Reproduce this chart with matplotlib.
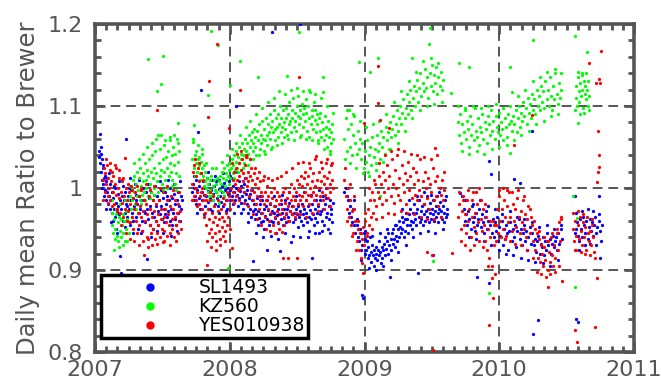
import numpy as np
import matplotlib
matplotlib.use("Agg")
import matplotlib.pyplot as plt
from matplotlib.lines import Line2D
from matplotlib.ticker import MultipleLocator

# Daily points: (days since 2007-01-01, daily-mean ratio to Brewer)
SL1493 = [
(11,1.045),(12,1.038),(13,1.066),(14,1.030),(15,1.042),(17,1.020),(18,1.010),(19,1.035),(20,1.000),(22,1.025),(23,1.005),(24,0.990),(26,1.015),(27,0.998),(29,1.008),(30,0.985),(32,0.995),(33,1.012),(35,0.980),(36,1.000),(38,0.990),(40,0.975),(41,1.005),(43,0.985),(45,0.970),(46,0.995),(48,0.960),(50,0.988),(52,0.975),(53,0.965),(55,1.000),(57,0.982),(58,0.950),(60,0.970),(62,0.993),(63,0.978),(65,1.008),(67,0.985),(68,0.917),(70,0.896),(71,0.975),(73,0.990),(75,0.960),(77,1.003),(78,0.985),(80,0.970),(82,0.995),(84,0.980),(85,1.060),(87,0.965),(89,0.990),(91,1.000),(92,0.975),(94,0.985),(96,0.955),(98,0.998),(100,0.970),(102,0.988),(104,0.960),(106,0.978),(108,1.005),(110,0.992),(112,0.965),(114,0.980),(116,0.950),(118,0.970),(120,0.990),(122,0.975),(124,0.945),(126,0.985),(128,0.960),(130,1.000),(132,0.972),(134,0.985),(136,0.958),(138,0.995),(140,0.913),(142,0.975),(144,0.962),(146,0.988),(148,0.955),(150,0.978),(152,0.995),(154,0.970),(156,0.950),(158,0.985),(160,0.965),(162,1.003),(164,0.978),(166,0.960),(168,0.990),(170,0.972),(172,0.955),(174,0.985),(176,0.968),(178,0.998),(180,0.978),(182,0.962),(184,0.988),(186,0.975),(188,0.958),(190,0.995),(192,0.980),(194,0.965),(196,0.990),(198,0.972),(200,0.985),(202,0.960),(204,1.000),(206,0.975),(208,0.955),(210,0.988),(212,0.970),(214,0.993),(216,0.962),(218,0.980),(220,0.955),(222,0.985),(224,0.970),(226,0.995),(228,0.978),(230,0.960),(232,0.990),(234,0.975),(236,0.985),
(263,0.995),(265,1.005),(267,0.985),(269,1.000),(271,0.990),(273,1.010),(275,0.980),(277,0.998),(279,1.068),(281,0.988),(283,1.003),(285,0.975),(287,1.120),(289,0.995),(291,0.985),(293,1.008),(295,0.992),(297,0.978),(299,1.000),(301,0.990),(303,1.012),(305,0.983),(307,0.996),(309,1.005),(311,0.988),(313,0.975),(315,0.998),(317,1.010),(319,0.985),(321,0.993),(323,1.002),(325,0.980),(327,0.995),(329,1.008),(331,0.988),(333,0.978),(335,0.999),(337,1.010),(339,0.990),(341,0.983),(343,1.003),(345,0.995),(347,0.978),(349,1.006),(351,0.990),(353,0.998),(355,0.985),(357,1.000),(359,0.975),(361,0.993),(363,1.008),(365,0.985),(367,0.998),(369,1.012),(371,0.990),(373,0.980),(375,1.003),(377,0.995),(379,0.985),(381,1.100),(383,1.000),(385,0.992),(387,0.978),(389,1.008),(391,0.988),(393,0.996),(395,0.982),(397,1.002),(399,0.990),(401,0.975),(403,0.995),(405,1.005),(407,0.985),(409,0.993),(411,0.980),(413,0.998),(415,0.970),(417,0.988),(419,0.975),(421,0.993),(423,0.965),(425,0.985),(427,0.972),(429,0.911),(431,0.980),(433,0.962),(435,0.975),(437,0.968),(439,0.988),(441,0.955),(443,0.972),(445,0.963),(447,0.980),(449,0.958),(451,0.970),(453,0.985),(455,0.960),(457,0.975),(459,0.950),(461,0.966),(463,0.978),(465,0.924),(467,0.962),(469,0.973),(471,0.955),(473,0.968),(475,0.980),(477,0.960),(479,0.972),(481,1.190),(483,0.958),(485,0.970),(487,0.963),(489,0.978),(491,0.945),(493,0.967),(495,0.975),(497,0.957),(499,0.968),(501,0.923),(503,0.962),(505,0.980),(507,0.970),(509,0.955),(511,0.975),(513,0.963),(515,0.985),(517,0.968),(519,0.958),(521,0.975),(523,0.965),(525,0.982),(527,0.960),(529,0.972),(531,0.934),(533,0.968),(535,0.978),(537,0.958),(539,0.970),(541,0.985),(543,0.962),(545,0.975),(547,0.968),(549,0.953),(551,0.978),(553,0.965),(555,1.200),(557,0.972),(559,0.960),(561,0.980),(563,0.968),(565,0.955),(567,0.975),(569,0.963),(571,0.985),(573,0.970),(575,0.958),(577,0.978),(579,0.965),(581,0.948),(583,0.973),(585,0.962),(587,0.915),(589,0.980),(591,0.968),(593,0.955),(595,0.975),(597,0.963),(599,0.985),(601,0.970),(603,0.958),(605,0.978),(607,0.945),(609,0.968),(611,0.985),(613,0.972),(615,0.960),(617,0.990),(619,0.975),(621,0.955),(623,0.980),(625,0.965),(627,0.988),(629,0.970),(631,0.950),(633,0.978),(635,0.962),(637,0.985),(639,0.968),(641,0.975),(643,0.958),(645,0.982),
(676,0.995),(679,1.000),(682,0.990),(685,0.985),(688,0.970),(691,0.978),(694,0.965),(697,0.958),(700,0.975),(703,0.955),(706,0.945),(709,0.962),(712,0.940),(715,0.935),(718,0.950),(721,0.925),(723,0.930),(725,0.870),(727,0.866),(729,0.945),(731,0.938),(733,0.920),(735,0.925),(737,0.935),(739,0.915),(741,0.928),(743,0.918),(745,0.940),(747,0.922),(749,0.910),(751,0.930),(753,0.918),(755,0.925),(757,0.905),(759,0.915),(761,0.928),(763,0.920),(765,0.912),(767,0.925),(769,0.918),(771,0.935),(773,0.922),(775,0.908),(777,0.928),(779,0.915),(781,0.925),(783,0.932),(785,0.918),(787,0.940),(789,0.926),(791,0.935),(793,0.920),(795,0.945),(797,0.930),(799,0.891),(801,0.938),(803,0.925),(805,0.945),(807,0.932),(809,0.950),(811,0.938),(813,0.928),(815,0.955),(817,0.942),(819,0.935),(821,0.950),(823,0.960),(825,0.940),(827,0.952),(829,0.945),(831,0.965),(833,0.950),(835,0.958),(837,0.940),(839,0.962),(841,0.948),(843,0.970),(845,0.955),(847,0.962),(849,0.945),(851,0.968),(853,0.955),(855,0.975),(857,0.960),(859,0.950),(861,0.970),(863,0.958),(865,0.980),(867,0.962),(869,0.970),(871,0.955),(873,0.975),(875,0.896),(877,0.965),(879,0.985),(881,0.958),(883,0.972),(885,0.962),(887,0.978),(889,0.955),(891,0.968),(893,0.980),(895,0.960),(897,0.972),(899,0.990),(901,0.965),(903,0.975),(905,0.958),(907,0.970),(909,0.982),(911,0.962),(913,0.975),(915,0.968),(916,0.918),(917,0.985),(919,0.960),(921,0.972),(923,0.978),(925,0.965),(927,0.990),(929,0.970),(931,0.958),(933,0.975),(935,0.983),(937,0.965),(939,0.972),(941,0.962),(943,0.978),(945,0.958),(947,0.970),(949,0.985),(951,0.965),(953,0.975),(955,0.968),
(990,0.994),(995,0.990),(1000,0.975),(1003,0.960),(1006,0.968),(1009,0.955),(1012,0.972),(1015,0.962),(1018,0.950),(1021,0.978),(1024,0.958),(1027,0.965),(1030,0.948),(1033,0.970),(1035,0.891),(1036,0.955),(1039,0.962),(1042,0.975),(1045,0.952),(1048,0.968),(1051,0.958),(1054,0.945),(1057,0.965),(1060,0.972),(1063,0.950),(1066,0.960),(1068,0.884),(1069,1.033),(1072,0.955),(1074,1.017),(1075,0.945),(1078,0.962),(1081,0.940),(1084,0.958),(1087,0.948),(1090,0.965),(1093,0.935),(1096,0.952),(1099,0.942),(1102,0.960),(1105,0.930),(1108,0.950),(1111,0.938),(1114,0.955),(1117,0.945),(1120,0.925),(1123,0.948),(1126,0.958),(1129,0.935),(1132,0.950),(1135,1.011),(1136,0.940),(1139,0.955),(1142,0.928),(1145,0.948),(1148,0.962),(1151,0.938),(1152,1.006),(1154,0.950),(1157,0.930),(1160,0.945),(1163,0.955),(1166,0.935),(1169,0.948),(1172,0.925),(1175,0.940),(1178,0.952),(1181,0.932),(1184,1.070),(1185,0.945),(1187,0.822),(1190,0.930),(1193,0.938),(1196,0.922),(1199,0.935),(1201,0.839),(1202,0.942),(1205,0.920),(1208,0.932),(1211,0.928),(1214,0.940),(1217,0.918),(1220,0.935),(1223,0.925),(1226,0.945),(1229,0.930),(1232,0.938),(1235,0.920),(1238,0.932),(1241,0.942),(1244,0.928),(1247,0.935),(1250,0.940),(1253,0.925),(1256,0.945),(1259,0.932),(1262,0.950),(1265,0.938),
(1300,0.990),(1302,0.945),(1304,0.950),(1305,0.840),(1307,0.958),(1308,0.836),(1310,0.942),(1312,0.935),(1314,0.962),(1317,0.950),(1320,0.940),(1323,0.965),(1326,0.955),(1329,0.945),(1332,0.960),(1335,0.938),(1338,0.952),(1341,0.962),(1344,0.948),(1347,0.958),(1350,0.942),(1353,0.955),(1356,0.965),(1359,0.945),(1362,0.952),(1365,0.960),(1366,0.990),(1368,0.915),(1370,0.948),(1373,0.955),
]
SL1493_MORE = [
(16,1.050),(21,1.028),(25,1.012),(31,0.975),(37,1.018),(44,0.958),(51,1.002),(59,0.945),(66,0.968),(74,1.010),(81,0.952),(88,0.978),(95,1.012),(103,0.945),(111,0.985),(119,1.010),(127,0.948),(135,0.970),(143,1.005),(151,0.940),(159,0.992),(167,0.948),(175,1.008),(183,0.945),(191,0.968),(199,1.010),(207,0.942),(215,1.005),(223,0.948),(231,1.008),
(268,1.015),(276,0.970),(286,1.018),(296,0.968),(306,1.020),(316,0.972),(326,1.015),(336,0.970),(346,1.018),(356,0.972),(366,1.015),(376,0.970),(386,1.020),(396,0.970),(406,1.012),(416,0.958),(426,0.998),(436,0.945),(446,0.990),(456,0.940),(466,0.985),(476,0.942),(486,0.990),(496,0.938),(506,0.992),(516,0.945),(526,0.995),(536,0.942),(546,0.990),(556,0.940),(566,0.995),(576,0.940),(586,0.992),(596,0.945),(606,0.998),(616,0.948),(626,1.000),(636,0.945),
(701,0.985),(711,0.955),(722,0.912),(732,0.948),(742,0.902),(752,0.942),(762,0.900),(772,0.945),(782,0.905),(792,0.950),(802,0.912),(812,0.955),(822,0.922),(832,0.975),(842,0.930),(852,0.985),(862,0.940),(872,0.990),(882,0.945),(892,0.995),(902,0.948),(912,0.992),(922,0.945),(932,0.995),(942,0.950),(952,0.990),
(1004,0.985),(1014,0.940),(1024,0.980),(1034,0.938),(1044,0.985),(1054,0.935),(1064,0.978),(1074,0.930),(1084,0.975),(1094,0.925),(1104,0.968),(1114,0.920),(1124,0.972),(1134,0.918),(1144,0.965),(1154,0.915),(1164,0.962),(1174,0.912),(1184,0.958),(1194,0.910),(1204,0.952),(1214,0.908),(1224,0.955),(1234,0.905),(1244,0.950),(1254,0.912),(1264,0.955),
(1303,0.970),(1311,0.925),(1319,0.972),(1327,0.930),(1335,0.975),(1343,0.932),(1351,0.972),(1359,0.930),(1367,0.968),(1371,0.935),
]

KZ560 = [
(45,0.970),(47,0.955),(49,0.945),(51,0.962),(53,0.938),(55,0.950),(57,0.975),(59,0.942),(61,0.958),(63,0.935),(65,0.965),(67,0.948),(69,0.980),(71,0.940),(73,0.955),(75,0.968),(77,0.945),(79,0.960),(81,0.935),(83,0.972),(85,0.950),(87,0.962),(89,0.985),(91,0.945),(93,0.958),(95,0.990),(97,0.975),(99,1.000),(101,0.985),(103,1.010),(105,0.995),(107,1.015),(109,0.980),(111,1.005),(113,0.990),(115,1.020),(117,0.998),(119,1.012),(121,0.985),(123,1.025),(125,1.002),(127,0.992),(129,1.018),(131,1.008),(133,0.995),(135,1.030),(137,1.010),(139,1.000),(141,1.022),(143,0.990),(144,1.157),(145,1.015),(147,1.035),(149,1.005),(151,1.020),(153,0.995),(155,1.040),(157,1.012),(159,1.025),(161,1.000),(163,1.045),(165,1.018),(167,1.118),(169,1.008),(171,1.065),(173,1.030),(175,1.015),(177,1.048),(179,1.022),(180,1.127),(181,1.005),(183,1.035),(185,1.161),(186,1.020),(188,1.052),(190,1.010),(192,1.038),(194,1.025),(196,1.000),(198,1.045),(200,1.015),(202,1.030),(204,1.058),(206,1.020),(208,1.040),(210,1.010),(212,1.050),(214,1.028),(216,1.005),(218,1.042),(220,1.018),(222,1.060),(224,1.032),(225,1.079),(227,1.015),(229,1.045),
(263,1.035),(265,1.056),(267,1.077),(269,1.025),(271,1.040),(273,1.030),(275,1.045),(277,1.020),(279,1.035),(281,1.028),(283,1.038),(285,1.018),(287,1.032),(289,1.025),(291,1.042),(293,1.015),(295,1.028),(297,1.020),(299,1.008),(301,1.000),(303,1.012),(305,0.995),(306,1.113),(307,1.005),(309,0.990),(311,1.010),(313,0.998),(314,1.192),(315,1.015),(317,0.992),(319,1.003),(321,0.985),(323,1.010),(325,0.998),(327,1.005),(329,0.995),(331,1.012),(333,1.175),(334,0.990),(336,1.008),(338,0.998),(340,1.015),(342,1.005),(344,1.020),(346,0.995),(348,1.012),(350,1.025),(352,1.003),(354,1.018),(356,1.010),(358,1.028),(360,1.015),(361,0.902),(362,1.022),(364,1.030),(365,1.126),(367,1.012),(369,1.025),(371,1.035),(373,1.018),(375,1.028),(377,1.040),(379,1.022),(381,1.032),(383,1.045),(385,1.025),(387,1.038),(389,1.050),(391,1.030),(393,1.155),(395,1.042),(397,1.035),(399,1.055),(401,1.040),(403,1.048),(405,1.030),(407,1.060),(409,1.045),(411,1.038),(413,1.055),(415,1.042),(417,1.065),(419,1.050),(421,1.035),(423,1.058),(425,1.068),(427,1.045),(429,1.055),(431,1.072),(433,1.050),(435,1.062),(437,1.040),(439,1.070),(441,1.135),(443,1.058),(445,1.078),(447,1.048),(449,1.065),(451,1.055),(453,1.082),(455,1.060),(457,1.045),(459,1.072),(461,1.058),(463,1.085),(465,1.065),(467,1.052),(469,1.078),(471,1.068),(473,1.090),(475,1.060),(477,1.075),(479,1.050),(481,1.082),(483,1.068),(485,1.095),(487,1.072),(489,1.058),(491,1.085),(493,1.075),(495,1.062),(497,1.090),(499,1.078),(501,1.100),(503,1.068),(505,1.085),(507,1.075),(509,1.095),(511,1.062),(513,1.080),(515,1.072),(517,1.098),(519,1.085),(520,1.137),(521,1.065),(523,1.090),(525,1.078),(527,1.105),(529,1.082),(531,1.068),(533,1.095),(535,1.085),(537,1.110),(539,1.075),(541,1.092),(543,1.082),(545,1.070),(547,1.100),(549,1.088),(551,1.112),(552,1.190),(553,1.078),(555,1.095),(557,1.085),(559,1.065),(561,1.102),(563,1.090),(565,1.075),(567,1.098),(569,1.082),(571,1.108),(573,1.092),(575,1.070),(577,1.100),(579,1.085),(581,1.062),(583,1.117),(585,1.078),(587,1.095),(589,1.088),(591,1.072),(593,1.105),(595,1.083),(597,1.095),(599,1.068),(601,1.090),(603,1.078),(605,1.058),(607,1.085),(609,1.070),(611,1.092),(613,1.062),(615,1.080),(617,1.135),(618,1.117),(619,1.072),(621,1.058),(623,1.088),(625,1.065),(627,1.075),(629,1.050),(631,1.082),(633,1.062),(635,1.072),(637,1.045),(639,1.068),(641,1.055),(643,1.078),(645,1.060),
(676,1.060),(679,1.085),(682,1.045),(685,1.072),(688,1.095),(691,1.050),(694,1.078),(697,1.040),(700,1.065),(703,1.088),(706,1.055),(709,1.042),(712,1.070),(715,1.154),(716,1.048),(719,1.060),(722,1.035),(725,1.055),(728,1.025),(731,1.045),(734,1.032),(737,1.058),(740,1.020),(743,1.040),(745,1.141),(746,1.050),(749,1.028),(752,1.062),(755,1.038),(758,1.048),(761,1.030),(764,1.065),(766,1.158),(767,1.045),(770,1.055),(772,0.990),(773,1.035),(776,1.070),(779,1.050),(782,1.062),(785,1.042),(788,1.075),(791,1.058),(794,1.068),(797,1.048),(800,1.080),(803,1.062),(806,1.072),(809,1.088),(812,1.065),(815,1.078),(818,1.095),(821,1.070),(824,1.085),(827,1.100),(830,1.078),(833,1.092),(836,1.108),(839,1.085),(842,1.098),(845,1.115),(848,1.090),(851,1.105),(854,1.120),(857,1.095),(860,1.158),(861,1.110),(864,1.125),(867,1.100),(870,1.118),(873,1.132),(876,1.105),(879,1.122),(882,1.140),(885,1.112),(888,1.128),(891,1.118),(894,1.145),(897,1.122),(900,1.135),(903,1.110),(906,1.176),(907,1.140),(909,1.195),(910,1.125),(913,1.150),(916,0.911),(917,1.118),(919,1.138),(922,1.128),(925,1.148),(928,1.115),(931,1.135),(934,1.125),(937,1.142),(940,1.120),(943,1.132),(965,1.116),
(983,1.080),(986,1.153),(987,1.065),(990,1.090),(993,1.055),(996,1.078),(999,1.068),(1002,1.095),(1005,1.060),(1008,1.082),(1011,1.072),(1013,1.148),(1014,1.050),(1017,1.088),(1020,1.065),(1023,1.078),(1026,1.058),(1029,1.098),(1032,1.070),(1035,1.062),(1038,1.085),(1041,1.052),(1044,1.075),(1047,1.068),(1050,1.090),(1053,1.060),(1056,1.080),(1059,1.072),(1062,1.055),(1065,1.088),(1068,0.872),(1069,1.078),(1071,1.065),(1074,1.095),(1077,1.070),(1080,1.082),(1083,1.060),(1086,1.088),(1089,1.075),(1092,1.068),(1095,1.092),(1098,1.065),(1101,1.080),(1104,1.072),(1107,1.058),(1110,1.085),(1113,1.075),(1116,1.062),(1119,1.090),(1122,1.078),(1124,1.148),(1125,1.043),(1127,1.082),(1130,1.117),(1131,1.070),(1134,1.088),(1137,1.078),(1140,1.095),(1143,1.068),(1146,1.085),(1149,1.100),(1152,1.075),(1155,1.092),(1158,1.082),(1161,1.105),(1164,1.088),(1167,1.098),(1170,1.078),(1173,1.110),(1176,1.092),(1179,1.102),(1182,1.085),(1185,1.115),(1187,1.180),(1188,1.095),(1191,1.108),(1194,1.090),(1197,1.120),(1200,1.100),(1203,1.112),(1206,1.095),(1209,1.125),(1212,1.105),(1215,1.118),(1218,1.098),(1221,1.130),(1224,1.108),(1227,1.120),(1230,1.100),(1233,1.135),(1236,1.112),(1239,1.095),(1242,1.125),(1245,1.108),(1248,1.140),(1251,1.115),(1254,1.102),(1257,1.128),(1260,1.110),(1263,1.120),
(1297,0.990),(1300,0.879),(1301,1.185),(1303,1.110),(1305,1.125),(1306,0.963),(1307,1.100),(1309,1.135),(1310,1.079),(1311,1.118),(1313,1.105),(1315,1.128),(1317,1.112),(1319,1.140),(1321,1.120),(1323,1.098),(1325,1.130),(1327,1.115),(1329,1.125),(1331,1.108),(1333,1.166),(1334,1.120),(1336,1.100),(1338,1.112),(1340,1.095),
]
KZ560_MORE = [
(46,0.985),(52,0.925),(58,0.968),(64,0.928),(70,0.962),(76,0.930),(82,0.985),(88,0.935),(94,1.002),(100,0.965),(106,1.030),(112,0.975),(118,1.035),(124,0.980),(130,1.042),(136,0.985),(142,1.050),(148,0.988),(154,1.055),(160,0.992),(166,1.060),(172,0.995),(178,1.065),(184,0.998),(190,1.058),(196,1.000),(202,1.062),(208,1.002),(214,1.065),(220,0.998),(226,1.055),
(266,1.060),(272,1.015),(278,1.052),(284,1.010),(290,1.048),(296,1.002),(302,1.030),(308,0.985),(316,1.025),(322,0.978),(328,1.025),(335,0.982),(343,1.032),(349,0.990),(357,1.040),(363,1.005),(370,1.048),(376,1.012),(382,1.055),(388,1.020),(394,1.065),(400,1.025),(408,1.075),(414,1.028),(420,1.082),(428,1.035),(436,1.090),(444,1.040),(452,1.098),(460,1.042),(468,1.105),(476,1.048),(484,1.110),(492,1.052),(500,1.118),(508,1.055),(516,1.115),(524,1.060),(532,1.120),(540,1.058),(548,1.122),(556,1.062),(564,1.118),(572,1.060),(580,1.120),(588,1.058),(596,1.115),(604,1.055),(612,1.110),(620,1.048),(628,1.100),(636,1.042),(644,1.092),
(677,1.035),(684,1.095),(692,1.030),(700,1.090),(708,1.025),(717,1.082),(726,1.018),(735,1.075),(744,1.015),(753,1.078),(762,1.022),(771,1.082),(780,1.032),(790,1.090),(800,1.048),(810,1.105),(820,1.055),(830,1.118),(840,1.070),(850,1.130),(860,1.085),(870,1.142),(880,1.095),(890,1.155),(900,1.100),(910,1.158),(920,1.102),(930,1.152),(940,1.105),
(984,1.100),(994,1.045),(1004,1.098),(1015,1.042),(1025,1.100),(1035,1.045),(1045,1.098),(1055,1.042),(1066,1.100),(1076,1.048),(1086,1.102),(1096,1.050),(1106,1.098),(1116,1.052),(1126,1.100),(1136,1.058),(1146,1.112),(1156,1.065),(1166,1.120),(1176,1.070),(1186,1.130),(1196,1.078),(1206,1.135),(1216,1.082),(1226,1.142),(1236,1.088),(1246,1.145),(1256,1.090),(1262,1.140),
(1302,1.095),(1308,1.142),(1314,1.090),(1320,1.138),(1326,1.092),(1332,1.140),(1337,1.130),
]

YES010938 = [
(22,1.010),(24,1.025),(26,0.995),(28,1.018),(30,1.005),(32,1.028),(34,0.990),(36,1.012),(38,1.000),(40,1.022),(42,0.985),(44,1.008),(46,1.020),(48,0.995),(50,1.015),(52,0.980),(54,1.005),(56,0.992),(58,1.025),(60,0.975),(62,1.000),(64,0.988),(66,1.012),(68,0.970),(70,0.995),(72,0.982),(74,1.008),(76,0.965),(78,0.990),(80,1.037),(82,0.975),(84,1.000),(86,0.960),(88,0.985),(90,0.972),(92,0.995),(94,0.958),(96,0.980),(98,1.002),(100,0.965),(102,0.988),(104,0.950),(106,0.975),(108,0.995),(110,0.960),(112,0.982),(114,0.945),(116,0.970),(118,0.990),(120,0.955),(122,0.978),(124,0.965),(126,1.000),(128,0.948),(130,0.972),(132,0.985),(134,0.918),(136,0.960),(138,0.980),(140,0.940),(142,0.968),(144,0.928),(146,0.990),(148,0.955),(150,0.975),(152,0.945),(154,0.965),(156,0.985),(158,0.950),(160,0.972),(162,0.938),(164,0.960),(166,0.980),(167,1.095),(168,0.945),(170,0.968),(172,0.955),(174,0.985),(176,0.940),(178,0.962),(180,0.975),(182,0.950),(184,0.995),(185,0.934),(186,0.965),(188,0.948),(190,0.975),(192,0.958),(194,0.985),(196,0.942),(198,0.968),(200,0.955),(202,0.978),(204,0.945),(206,0.990),(208,0.962),(210,0.950),(212,0.975),(214,0.940),(216,0.965),(218,0.985),(220,0.955),(222,0.970),(224,0.945),(226,0.980),(228,0.960),(230,0.972),(232,0.950),
(263,1.005),(265,1.020),(267,0.990),(269,1.028),(271,1.000),(273,0.985),(275,1.015),(277,0.995),(279,1.025),(281,0.980),(283,1.008),(285,0.990),(287,1.018),(289,0.975),(291,1.000),(293,0.985),(295,0.965),(297,0.992),(299,0.970),(301,0.955),(303,0.906),(305,1.086),(306,0.975),(308,0.945),(309,1.130),(310,0.962),(312,0.985),(314,0.950),(316,0.970),(318,0.940),(320,0.958),(322,0.978),(324,0.945),(326,0.965),(328,0.935),(330,0.955),(332,1.176),(333,0.972),(335,0.948),(337,0.962),(339,0.938),(341,0.975),(343,0.952),(345,0.965),(347,0.942),(349,0.960),(351,0.980),(353,0.948),(355,0.970),(357,0.955),(359,0.985),(361,0.965),(363,1.073),(364,0.990),(366,0.975),(368,1.000),(370,0.985),(372,0.927),(373,1.010),(375,0.995),(377,1.020),(379,1.005),(381,0.990),(383,1.025),(385,1.010),(387,0.998),(389,1.030),(391,1.015),(393,1.120),(394,1.000),(396,1.022),(398,1.035),(400,1.008),(402,1.018),(404,0.995),(406,1.028),(408,1.012),(410,1.040),(412,1.002),(414,1.020),(416,1.008),(418,0.990),(420,1.015),(422,1.025),(424,0.998),(426,1.010),(428,0.985),(430,1.018),(432,0.995),(434,1.005),(436,0.980),(438,1.012),(440,0.990),(442,1.000),(444,0.975),(446,1.008),(448,0.985),(450,0.995),(452,0.970),(454,0.990),(456,1.010),(458,0.980),(460,0.995),(462,0.965),(464,0.985),(466,1.002),(468,0.975),(470,0.990),(472,0.960),(474,0.982),(476,0.995),(478,0.970),(480,0.988),(482,0.955),(484,0.978),(486,1.000),(488,0.965),(490,0.985),(492,0.972),(494,0.995),(496,0.958),(498,0.980),(500,0.990),(502,0.968),(504,0.985),(506,0.946),(508,0.975),(509,0.915),(510,0.995),(512,0.965),(514,0.982),(516,1.000),(518,0.970),(520,0.988),(522,0.960),(523,0.915),(524,0.978),(526,0.995),(528,0.972),(530,0.985),(532,1.005),(534,0.968),(536,0.990),(538,0.978),(540,1.000),(542,0.985),(544,0.970),(546,0.995),(547,0.915),(548,1.010),(550,0.980),(552,0.992),(553,1.135),(554,1.005),(556,0.985),(558,1.015),(560,0.990),(562,1.002),(564,0.978),(566,1.012),(568,0.995),(570,1.020),(572,0.985),(574,1.005),(576,0.992),(578,1.015),(580,0.980),(582,1.000),(584,1.025),(586,0.990),(588,1.008),(590,0.995),(592,1.018),(594,0.985),(596,1.002),(598,1.039),(600,0.992),(602,1.010),(604,0.980),(606,1.000),(608,1.020),(610,0.990),(612,1.008),(614,0.995),(616,1.025),(618,0.985),(620,1.005),(622,1.015),(624,0.992),(626,1.030),(628,1.000),(630,1.012),(632,0.988),(634,1.020),(636,1.005),(638,0.995),(640,1.028),(642,1.010),(644,1.000),
(676,1.010),(679,0.990),(682,0.975),(685,1.000),(688,0.965),(691,0.985),(694,0.955),(697,0.972),(700,0.945),(703,0.990),(706,0.960),(709,0.935),(712,0.950),(715,0.925),(718,0.945),(721,0.915),(724,0.938),(726,0.896),(727,0.952),(729,1.079),(730,0.930),(733,0.960),(736,0.945),(739,0.975),(742,0.955),(745,0.985),(748,0.965),(751,0.995),(754,0.970),(757,0.985),(760,1.005),(763,0.978),(766,0.995),(767,1.149),(768,1.104),(769,1.015),(771,0.988),(772,1.083),(774,1.005),(777,0.980),(780,1.020),(783,0.995),(786,1.010),(789,0.985),(792,1.028),(795,1.000),(797,1.073),(798,1.015),(801,0.990),(804,1.035),(807,1.005),(810,0.982),(813,1.022),(816,1.000),(819,1.040),(822,0.992),(825,1.012),(828,0.985),(831,1.028),(834,1.005),(837,0.995),(840,1.018),(843,0.980),(846,1.010),(849,1.032),(852,0.998),(855,1.015),(858,0.988),(861,1.025),(864,1.005),(867,0.992),(870,1.020),(873,0.985),(876,1.010),(879,0.998),(882,1.035),(885,0.990),(888,1.008),(891,0.980),(894,1.020),(897,1.000),(899,0.922),(900,0.988),(903,1.012),(906,0.975),(909,1.005),(912,0.995),(914,0.918),(915,1.025),(916,0.802),(918,0.985),(921,1.049),(922,1.008),(925,0.990),(928,1.015),(931,0.978),(934,1.000),(937,0.992),(940,1.010),(943,0.985),(946,0.998),(967,0.921),
(985,0.965),(988,0.980),(991,0.950),(994,0.972),(997,0.990),(1000,0.955),(1003,0.968),(1006,0.945),(1009,0.985),(1012,0.960),(1015,0.975),(1018,0.940),(1021,0.965),(1024,0.995),(1027,0.952),(1030,0.970),(1033,0.945),(1036,0.980),(1039,0.958),(1042,1.000),(1045,0.962),(1048,0.948),(1051,0.975),(1054,0.955),(1057,0.935),(1060,0.965),(1063,0.925),(1066,0.950),(1068,0.833),(1069,0.915),(1072,0.940),(1075,0.905),(1078,0.960),(1080,0.866),(1081,0.930),(1084,0.895),(1087,0.955),(1090,0.975),(1093,0.945),(1096,0.990),(1099,0.960),(1102,0.975),(1105,0.950),(1108,0.985),(1111,0.965),(1114,0.942),(1117,0.978),(1120,0.958),(1123,0.995),(1126,0.965),(1129,0.948),(1132,0.980),(1135,1.053),(1136,0.960),(1139,0.975),(1142,0.952),(1145,0.988),(1148,0.965),(1151,0.945),(1154,0.972),(1157,0.958),(1160,0.985),(1163,0.950),(1166,0.968),(1169,0.940),(1172,0.962),(1175,0.978),(1178,0.945),(1181,0.965),(1184,1.089),(1185,0.955),(1188,0.935),(1191,0.960),(1194,0.925),(1197,0.945),(1200,0.915),(1203,0.938),(1206,0.910),(1209,0.930),(1212,0.920),(1215,0.905),(1218,0.928),(1221,0.912),(1224,0.935),(1227,0.900),(1228,0.879),(1230,0.922),(1233,0.910),(1236,0.940),(1239,0.918),(1242,0.905),(1245,0.930),(1248,0.915),(1251,0.945),(1254,0.925),(1257,0.958),(1260,0.935),(1263,0.965),(1265,0.886),
(1295,0.950),(1298,0.935),(1300,0.960),(1301,0.827),(1303,0.942),(1305,0.925),(1306,0.812),(1308,0.955),(1311,0.938),(1314,0.965),(1317,0.948),(1320,0.930),(1323,0.958),(1326,0.940),(1329,0.952),(1332,0.925),(1335,0.945),(1338,0.935),(1340,1.152),(1342,0.948),(1344,0.930),(1347,0.955),(1350,0.940),(1353,0.922),(1355,0.830),(1358,1.128),(1361,0.890),(1362,1.007),(1363,1.069),(1364,1.020),(1365,1.026),(1366,1.133),(1367,1.040),(1368,1.128),(1372,1.167),
]
YES010938_MORE = [
(23,0.985),(29,1.035),(35,0.982),(41,1.030),(47,0.978),(53,1.028),(59,0.972),(65,1.022),(71,0.955),(77,1.012),(83,0.945),(89,1.005),(95,0.938),(101,0.998),(107,0.935),(113,1.002),(119,0.930),(125,0.998),(131,0.935),(137,1.005),(143,0.938),(149,0.998),(155,0.930),(161,1.002),(169,0.932),(177,1.000),(187,0.935),(195,1.002),(203,0.930),(211,0.998),(219,0.935),(227,0.995),
(264,0.985),(270,1.035),(276,0.978),(282,1.030),(288,0.995),(294,1.010),(300,0.985),(304,0.935),(311,0.995),(315,0.928),(321,0.990),(327,0.925),(334,0.985),(340,0.930),(346,0.988),(352,0.935),(358,0.995),(365,0.950),(371,1.030),(378,0.982),(384,1.042),(390,0.985),(397,1.045),(403,0.982),(409,1.038),(415,0.978),(421,1.035),(427,0.968),(433,1.025),(439,0.962),(445,1.020),(451,0.955),(457,1.015),(463,0.950),(469,1.012),(475,0.948),(481,1.010),(487,0.945),(493,1.012),(499,0.950),(505,1.015),(511,0.955),(517,1.020),(525,0.960),(533,1.025),(541,0.965),(549,1.030),(557,0.968),(565,1.032),(573,0.965),(581,1.030),(589,0.970),(597,1.035),(605,0.972),(613,1.032),(621,0.975),(629,1.035),(637,0.978),(643,1.030),
(678,1.025),(684,0.960),(690,1.005),(696,0.942),(702,0.975),(708,0.925),(714,0.960),(720,0.945),(725,0.908),(732,0.970),(738,0.942),(744,1.000),(750,0.950),(756,1.010),(762,0.962),(770,1.030),(778,0.965),(786,1.040),(794,0.970),(802,1.045),(811,0.968),(820,1.048),(829,0.972),(838,1.045),(847,0.970),(856,1.042),(865,0.968),(874,1.040),(883,0.965),(892,1.038),(901,0.962),(910,1.035),(919,0.962),(928,1.040),(938,0.965),(945,1.020),
(986,0.995),(992,0.935),(998,0.985),(1004,0.930),(1010,0.998),(1016,0.925),(1022,0.985),(1028,0.930),(1034,0.995),(1040,0.935),(1046,0.985),(1052,0.928),(1058,0.980),(1064,0.905),(1070,0.960),(1076,0.890),(1082,0.955),(1088,0.935),(1094,0.998),(1100,0.940),(1106,1.000),(1112,0.938),(1118,0.998),(1124,0.935),(1130,0.995),(1138,0.932),(1146,0.998),(1154,0.930),(1162,0.990),(1170,0.925),(1178,0.975),(1186,0.915),(1192,0.950),(1198,0.898),(1204,0.948),(1210,0.895),(1216,0.940),(1222,0.892),(1228,0.935),(1234,0.895),(1240,0.945),(1246,0.898),(1252,0.950),(1258,0.905),(1264,0.962),
(1296,0.970),(1302,0.925),(1309,0.972),(1316,0.922),(1322,0.968),(1328,0.920),(1334,0.965),(1341,0.918),(1348,0.962),(1354,0.915),
]

SERIES_NAMES = ["SL1493", "KZ560", "YES010938"]
SERIES_COLORS = ["#0000ff", "#00ff00", "#ff0000"]
X_TICKS = [2007, 2008, 2009, 2010, 2011]
Y_TICKS = [0.8, 0.9, 1.0, 1.1, 1.2]
Y_TICK_LABELS = ["0.8", "0.9", "1", "1.1", "1.2"]

GRAY = "#555555"
plt.rcParams["font.family"] = ["DejaVu Sans"]

fig = plt.figure(figsize=(6.61, 3.83), dpi=100)
ax = fig.add_axes([95 / 661, 31 / 383, 539 / 661, 328 / 383])

all_series = [SL1493 + SL1493_MORE, KZ560 + KZ560_MORE, YES010938 + YES010938_MORE]
for pts, name, col in zip(all_series, SERIES_NAMES, SERIES_COLORS):
    arr = np.array(sorted(pts), dtype=float)
    x = 2007 + arr[:, 0] / 365.25
    ax.scatter(x, arr[:, 1], s=5.5, color=col, marker="o", linewidths=0, zorder=3)

ax.set_xlim(2007, 2011)
ax.set_ylim(0.8, 1.2)
ax.set_xticks(X_TICKS)
ax.set_xticklabels([str(t) for t in X_TICKS])
ax.set_yticks(Y_TICKS)
ax.set_yticklabels(Y_TICK_LABELS)
ax.xaxis.set_minor_locator(MultipleLocator(1 / 12))
ax.yaxis.set_minor_locator(MultipleLocator(0.02))

ax.tick_params(which="both", direction="in", top=True, right=True, color=GRAY,
               width=2.0, labelcolor=GRAY, labelsize=16)
ax.tick_params(which="major", length=7)
ax.tick_params(which="minor", length=4.5)
ax.tick_params(axis="y", which="major", pad=9)
ax.tick_params(axis="x", which="major", pad=6)

for sp in ax.spines.values():
    sp.set_color(GRAY)
    sp.set_linewidth(2.6)

for yv in [0.9, 1.0, 1.1]:
    ax.axhline(yv, color=GRAY, lw=1.4, ls=(0, (5, 3)), zorder=1)
for xv in [2008, 2009, 2010]:
    ax.axvline(xv, color=GRAY, lw=1.4, ls=(0, (5, 3)), zorder=1)

ax.set_ylabel("Daily mean Ratio to Brewer", fontsize=17.5, color=GRAY, labelpad=5)

handles = [Line2D([], [], linestyle="none", marker="o", markersize=6, color=c,
                  markeredgewidth=0) for c in SERIES_COLORS]
leg = ax.legend(handles, SERIES_NAMES, loc="lower left",
                bbox_to_anchor=(6 / 539, 14 / 328), borderaxespad=0,
                fontsize=13.5, frameon=True, fancybox=False, framealpha=1,
                edgecolor="black", borderpad=0.15, handlelength=4.9,
                handletextpad=0.15, labelspacing=0.0)
leg.get_frame().set_linewidth(2.5)
leg.set_zorder(5)

fig.savefig("out.png", dpi=100)
